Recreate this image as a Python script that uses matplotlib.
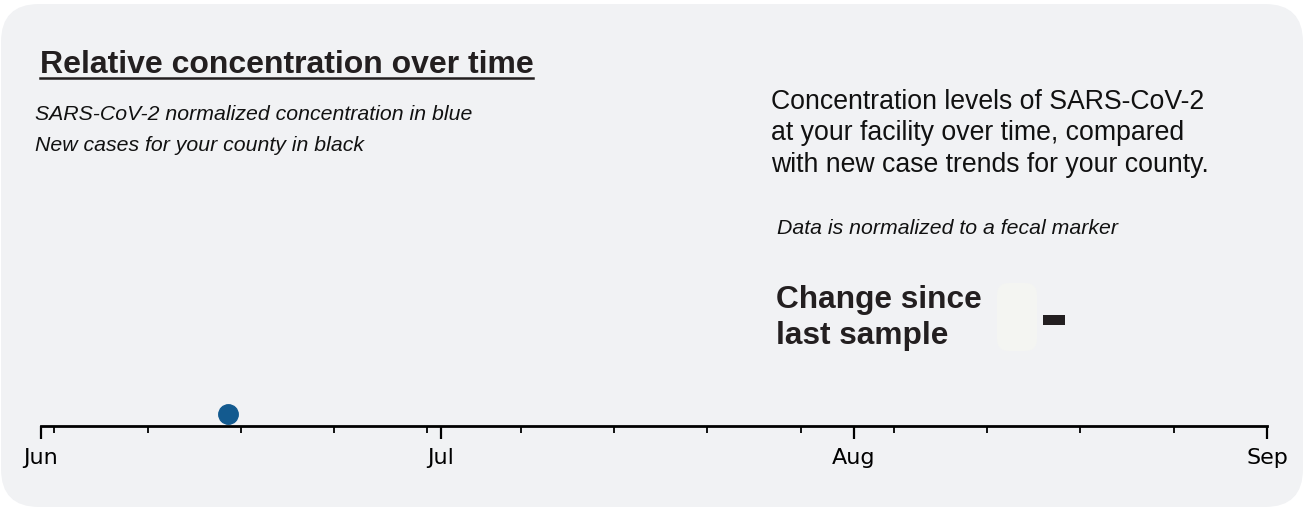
import matplotlib
matplotlib.use('Agg')
import matplotlib.pyplot as plt
import matplotlib.patches as patches
import matplotlib.dates as mdates
import numpy as np
from datetime import datetime

# Data
sample_dates = [datetime(2020, 6, 15)]
concentration = [1.0]
x_start = datetime(2020, 6, 1)
x_end = datetime(2020, 9, 1)

title = 'Relative concentration over time'
subtitle_lines = ['SARS-CoV-2 normalized concentration in blue',
                  'New cases for your county in black']
desc_lines = ['Concentration levels of SARS-CoV-2',
              'at your facility over time, compared',
              'with new case trends for your county.']
note = 'Data is normalized to a fecal marker'
change_label = 'Change since\nlast sample'

W, H = 1305, 510
fig = plt.figure(figsize=(W / 100, H / 100), dpi=100)
fig.patch.set_facecolor('white')

def fx(px):
    return px / W

def fy(py):
    return 1 - py / H

# Rounded card background (in inches so corners stay round)
card = patches.FancyBboxPatch((1 / 100, 2 / 100), 1302 / 100, 503 / 100,
                              boxstyle='round,pad=0,rounding_size=0.38',
                              transform=fig.dpi_scale_trans,
                              facecolor='#f1f2f4', edgecolor='none', zorder=-2)
fig.patches.append(card)

# Timeline axes
ax = fig.add_axes([fx(41), fy(427), fx(1267) - fx(41), fy(127) - fy(427)])
ax.set_zorder(3)
ax.set_facecolor('none')
ax.plot(sample_dates, concentration, 'o', color='#135a8f', markersize=14,
        clip_on=False, zorder=3)
ax.set_xlim(x_start, x_end)
ax.set_ylim(0, 25)
for s in ['left', 'right', 'top']:
    ax.spines[s].set_visible(False)
ax.spines['bottom'].set_linewidth(2)
ax.spines['bottom'].set_color('black')
ax.set_yticks([])
ax.xaxis.set_major_locator(mdates.MonthLocator())
ax.xaxis.set_major_formatter(mdates.DateFormatter('%b'))
ax.xaxis.set_minor_locator(mdates.WeekdayLocator(byweekday=1))
ax.tick_params(axis='x', which='major', length=9, width=1.6, labelsize=16,
               pad=6, colors='black')
ax.tick_params(axis='x', which='minor', length=5, width=1.3, colors='black')

# Title with underline
fig.text(fx(40), fy(65), title, fontsize=23, fontweight='bold',
         family='Liberation Sans', color='#231f20', va='center', ha='left')
fig.lines.append(plt.Line2D([fx(40), fx(533)], [fy(79), fy(79)],
                            transform=fig.transFigure, color='#231f20', lw=1.8))

for i, line in enumerate(subtitle_lines):
    fig.text(fx(35), fy(114.5 + 31 * i), line, fontsize=15.3, style='italic',
             family='Liberation Sans', color='#111111', va='center', ha='left')

for i, line in enumerate(desc_lines):
    fig.text(fx(771), fy(102 + 31.5 * i), line, fontsize=19.2,
             family='Liberation Sans', color='#111111', va='center', ha='left')

fig.text(fx(777), fy(229), note, fontsize=15.3, style='italic',
         family='Liberation Sans', color='#111111', va='center', ha='left')

fig.text(fx(776), fy(318), change_label, fontsize=22.8, fontweight='bold',
         family='Liberation Sans', color='#231f20', va='center', ha='left',
         linespacing=1.22)

# Change indicator
fig.patches.append(patches.FancyBboxPatch((997 / 100, (H - 352) / 100), 40 / 100, 68 / 100,
                                          boxstyle='round,pad=0,rounding_size=0.12',
                                          transform=fig.dpi_scale_trans,
                                          facecolor='#f4f5f2', edgecolor='none', zorder=1))
fig.patches.append(patches.Rectangle((1043 / 100, (H - 326) / 100), 22 / 100, 10 / 100,
                                     transform=fig.dpi_scale_trans,
                                     facecolor='#231f20', edgecolor='none', zorder=2))

fig.savefig('out.png', dpi=100)
